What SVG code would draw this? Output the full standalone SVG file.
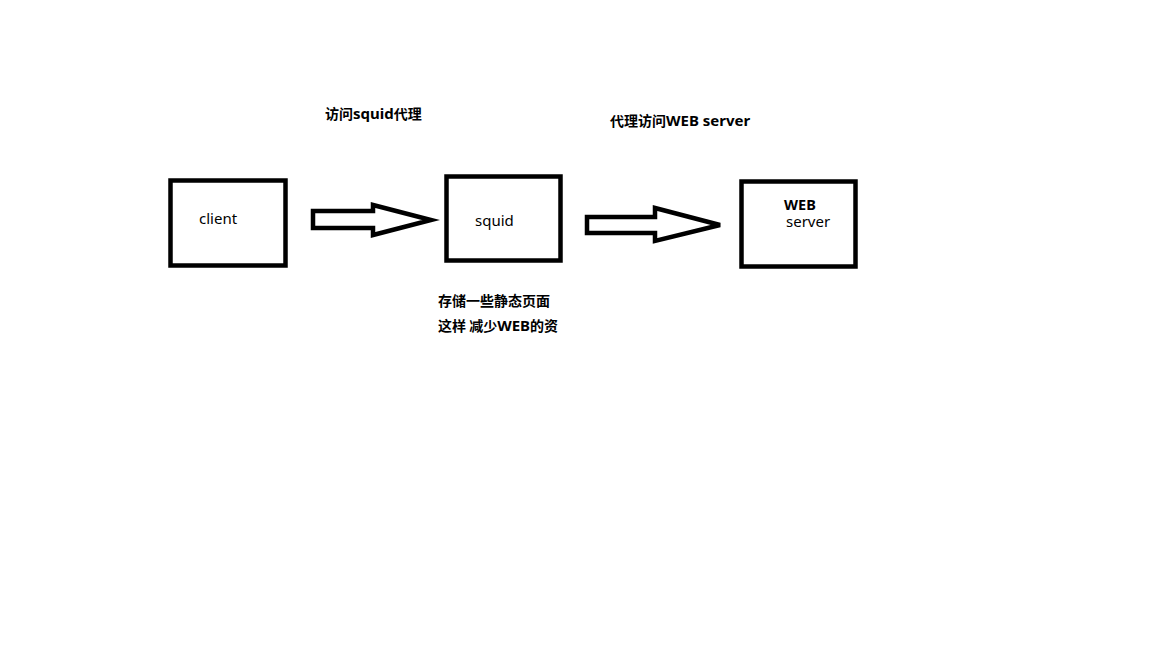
<svg xmlns="http://www.w3.org/2000/svg" width="1152" height="648" viewBox="0 0 1152 648">
<style>
.box{fill:#fff;stroke:#000;stroke-width:4.5}
.arr{fill:#fff;stroke:#000;stroke-width:4.5;stroke-linejoin:miter}
.t{font-family:"Noto Sans","Noto Sans CJK SC",sans-serif;font-size:15px;fill:#000}
.b{font-family:"Noto Sans CJK SC","Noto Sans",sans-serif;font-size:14px;font-weight:bold;fill:#000}
.l{font-family:"Noto Sans",sans-serif;font-size:15px;font-weight:bold}
</style>
<rect width="1152" height="648" fill="#fff"/>
<g id="client">
<rect class="box" x="170.5" y="180.5" width="115" height="85"/>
<text class="t" x="199" y="224">client</text>
</g>
<g id="squid">
<rect class="box" x="446.5" y="176.5" width="114" height="84"/>
<text class="t" x="475" y="226">squid</text>
</g>
<g id="webserver">
<rect class="box" x="741.5" y="181.5" width="114" height="85"/>
<text class="b" x="784" y="210" style="font-family:'Noto Sans',sans-serif;font-size:14.5px">WEB</text>
<text class="t" x="786" y="227">server</text>
</g>
<g id="connectors">
<polygon class="arr" points="313,211 373,211 373,205 431,220 373,235 373,228 313,228"/>
<polygon class="arr" points="587,217 655,217 655,208 720,225 655,241 655,233 587,233"/>
</g>
<g id="labels">
<text class="b" x="325" y="119">访问<tspan class="l">squid</tspan>代理</text>
<text class="b" x="610" y="126">代理访问<tspan class="l">WEB server</tspan></text>
<text class="b" x="438" y="306">存储一些静态页面</text>
<text class="b" x="438" y="331">这样 减少<tspan class="l">WEB</tspan>的资</text>
</g>
</svg>
